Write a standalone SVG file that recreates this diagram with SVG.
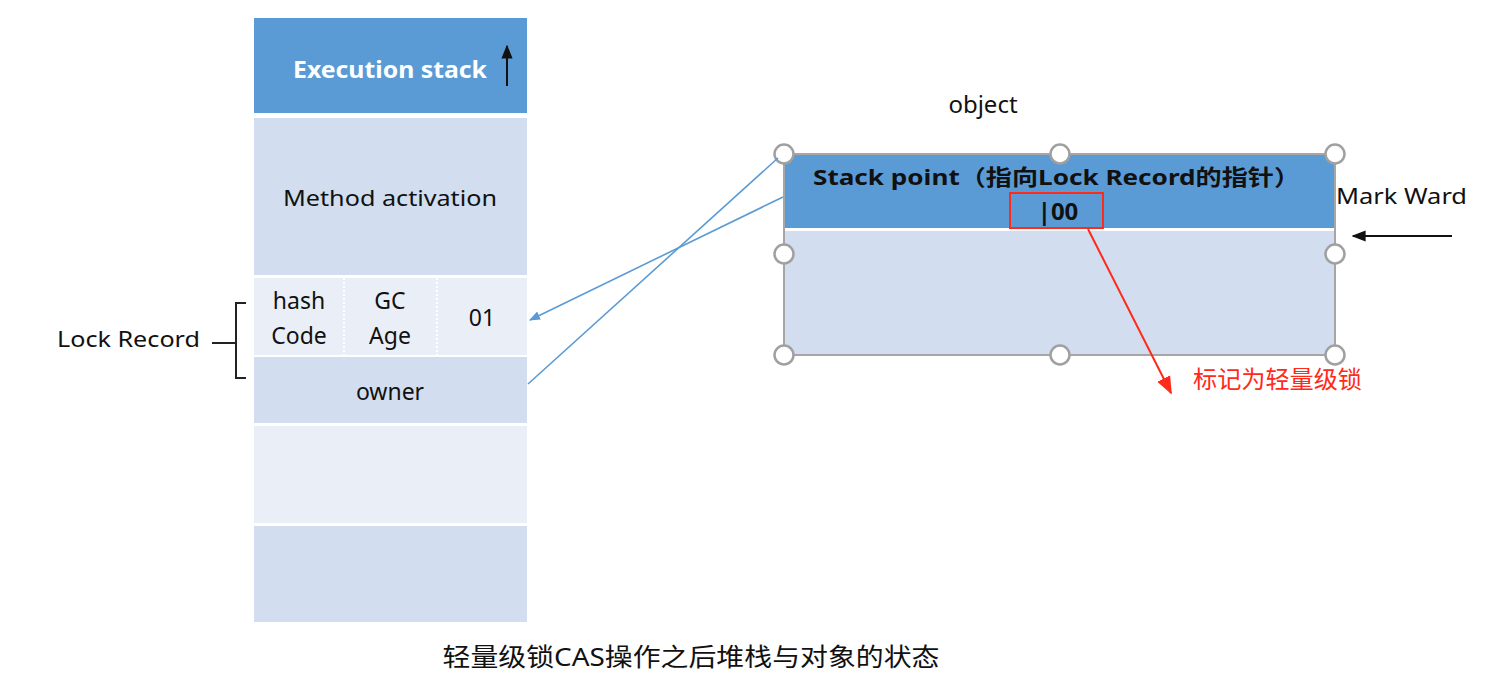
<svg xmlns="http://www.w3.org/2000/svg" width="1502" height="686" viewBox="0 0 1502 686">
<defs>
<style>
text{font-family:"Noto Sans","Liberation Sans","Noto Sans CJK SC",sans-serif;font-size:22px;fill:#111}
.c{text-anchor:middle}
.b{font-weight:bold}
.dk{fill:#5B9BD5}
.lt{fill:#D2DEEF}
.lt2{fill:#EAEFF7}
.h{fill:#fff;stroke:#A0A0A0;stroke-width:2.5}
.blue{stroke:#5B9BD5;stroke-width:1.6;fill:none}
</style>
<marker id="ab" viewBox="0 0 10 10" refX="9" refY="5" markerWidth="7" markerHeight="7" orient="auto"><path d="M0,1L10,5L0,9z" fill="#5B9BD5"/></marker>
<marker id="ak" viewBox="0 0 10 10" refX="9" refY="5" markerWidth="7" markerHeight="7" orient="auto"><path d="M0,1L10,5L0,9z" fill="#111"/></marker>
<marker id="ar" viewBox="0 0 10 10" refX="9" refY="5" markerWidth="9" markerHeight="9" orient="auto"><path d="M0,1L10,5L0,9z" fill="#FF2A1A"/></marker>
</defs>
<rect width="1502" height="686" fill="#fff"/>
<g id="stack">
<rect class="dk" x="254" y="18" width="273" height="95"/>
<text class="b c" x="390" y="78" textLength="194" lengthAdjust="spacingAndGlyphs" style="fill:#fff;font-size:23px">Execution stack</text>
<line x1="507" y1="86" x2="507" y2="46" stroke="#111" stroke-width="2" marker-end="url(#ak)"/>
<rect class="lt" x="254" y="118" width="273" height="157"/>
<text class="c" x="390" y="206" textLength="214" lengthAdjust="spacingAndGlyphs">Method activation</text>
<rect class="lt2" x="254" y="278" width="273" height="77"/>
<line x1="344" y1="278" x2="344" y2="355" stroke="#fff" stroke-width="2" stroke-dasharray="2 2"/>
<line x1="437" y1="278" x2="437" y2="355" stroke="#fff" stroke-width="2" stroke-dasharray="2 2"/>
<text class="c" x="299" y="309" style="font-size:23px">hash</text>
<text class="c" x="299" y="344" style="font-size:23px">Code</text>
<text class="c" x="390" y="309" style="font-size:23px">GC</text>
<text class="c" x="390" y="344" style="font-size:23px">Age</text>
<text class="c" x="482" y="326" style="font-size:23px">01</text>
<rect class="lt" x="254" y="357" width="273" height="66"/>
<text class="c" x="390" y="400" style="font-size:23px">owner</text>
<rect class="lt2" x="254" y="426" width="273" height="97"/>
<rect class="lt" x="254" y="526" width="273" height="96"/>
</g>
<g id="lockrecord">
<text x="57" y="347" textLength="143" lengthAdjust="spacingAndGlyphs">Lock Record</text>
<path d="M246,303H236V378H246M212,343H236" fill="none" stroke="#222" stroke-width="2"/>
</g>
<g id="object">
<text class="c" x="983" y="113" style="font-size:24px">object</text>
<rect class="lt" x="784" y="154" width="551" height="201" stroke="#A6A6A6" stroke-width="2"/>
<rect class="dk" x="785" y="155" width="549" height="73"/>
<rect x="785" y="228" width="549" height="3" fill="#fff"/>
<text class="b" x="813" y="185" textLength="487" lengthAdjust="spacingAndGlyphs">Stack point（指向Lock Record的指针）</text>
<rect x="1010" y="193" width="93" height="35" fill="none" stroke="#FF2A1A" stroke-width="2"/>
<text class="b c" x="1058" y="220" style="font-size:24px">|00</text>
<circle class="h" cx="784" cy="154" r="9.5"/>
<circle class="h" cx="1060" cy="154" r="9.5"/>
<circle class="h" cx="1335" cy="154" r="9.5"/>
<circle class="h" cx="784" cy="254" r="9.5"/>
<circle class="h" cx="1335" cy="254" r="9.5"/>
<circle class="h" cx="784" cy="355" r="9.5"/>
<circle class="h" cx="1060" cy="355" r="9.5"/>
<circle class="h" cx="1335" cy="355" r="9.5"/>
<text x="1336" y="204" textLength="131" lengthAdjust="spacingAndGlyphs">Mark Ward</text>
<text x="1193" y="388" textLength="169" lengthAdjust="spacingAndGlyphs" style="fill:#FF2A1A;font-size:24px">标记为轻量级锁</text>
</g>
<g id="connectors">
<line class="blue" x1="778" y1="158" x2="528" y2="384"/>
<line class="blue" x1="783" y1="197" x2="530" y2="320" marker-end="url(#ab)"/>
<line x1="1452" y1="236" x2="1353" y2="236" stroke="#111" stroke-width="2" marker-end="url(#ak)"/>
<line x1="1088" y1="229" x2="1171" y2="393" stroke="#FF2A1A" stroke-width="2" marker-end="url(#ar)"/>
</g>
<text class="c" x="691" y="666" textLength="497" lengthAdjust="spacingAndGlyphs" style="font-size:25px">轻量级锁CAS操作之后堆栈与对象的状态</text>
</svg>
